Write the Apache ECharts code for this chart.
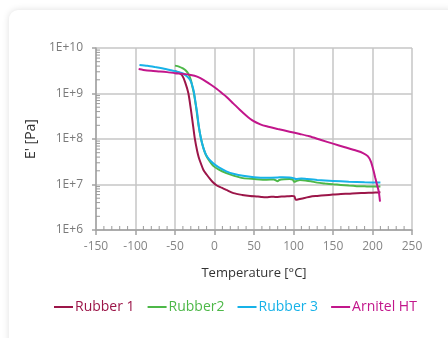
<!DOCTYPE html>
<html><head><meta charset="utf-8">
<script src="https://cdn.jsdelivr.net/npm/echarts@6/dist/echarts.min.js"></script>
<style>
html,body{margin:0;padding:0;background:#fff;overflow:hidden;}
#card{position:absolute;left:9px;top:10px;width:450px;height:345px;background:#fff;border-radius:9px;box-shadow:0 0 7px rgba(0,0,0,0.13);}
#chart{position:absolute;left:0;top:0;width:448px;height:338px;}
</style></head><body>
<div id="card"></div><div id="chart"></div>
<script>
// ---- data (temperature in °C, storage modulus E' in Pa) ----
const seriesNames = ['Rubber 1', 'Rubber2', 'Rubber 3', 'Arnitel HT'];
const seriesColors = ['#9c1649', '#4db848', '#17b2e8', '#c2168b'];

const rubber1T = [-50,-45,-41,-37,-33,-30,-27,-25,-22,-20,-17,-14,-10,-6,-2,3,9,15,24,35,45,55,60,66,72,78,85,92,98,101,103,108,115,121,130,140,150,160,170,180,190,200,207,210];
const rubber1E = [3.09e9,2.88e9,2.51e9,1.74e9,1.0e9,4.57e8,1.9e8,1.05e8,5.5e7,3.98e7,2.82e7,2.09e7,1.66e7,1.35e7,1.12e7,9.5e6,8.5e6,7.6e6,6.45e6,5.9e6,5.6e6,5.45e6,5.3e6,5.25e6,5.4e6,5.3e6,5.45e6,5.5e6,5.6e6,5.5e6,4.6e6,4.8e6,5.1e6,5.4e6,5.6e6,5.8e6,6.0e6,6.2e6,6.3e6,6.45e6,6.5e6,6.6e6,6.7e6,6.75e6];

const rubber2T = [-50,-45,-40,-36,-33,-30,-28,-26,-23,-20,-17,-14,-11,-7,-2,5,15,25,36,50,66,75,80,82,88,95,99,101,104,108,115,122,130,140,150,160,170,180,190,200,210];
const rubber2E = [4.1e9,3.9e9,3.55e9,3.15e9,2.7e9,2.0e9,1.4e9,1.0e9,4.6e8,1.9e8,1.0e8,6.3e7,4.5e7,3.4e7,2.6e7,2.15e7,1.78e7,1.55e7,1.38e7,1.32e7,1.27e7,1.29e7,1.18e7,1.26e7,1.31e7,1.32e7,1.28e7,1.15e7,1.2e7,1.26e7,1.23e7,1.18e7,1.1e7,1.05e7,1.01e7,9.8e6,9.45e6,9.2e6,9.1e6,9.0e6,9.0e6];

const rubber3T = [-95,-85,-75,-65,-55,-50,-45,-40,-35,-31,-28,-26,-24,-22,-20,-17,-14,-11,-7,-2,5,15,25,36,50,66,80,86,95,100,103,110,117,130,150,170,190,210];
const rubber3E = [4.25e9,4.05e9,3.8e9,3.55e9,3.25e9,3.1e9,2.95e9,2.75e9,2.4e9,2.0e9,1.48e9,1.05e9,6.3e8,3.8e8,2.0e8,1.0e8,6.3e7,4.6e7,3.6e7,2.95e7,2.4e7,1.95e7,1.7e7,1.55e7,1.45e7,1.41e7,1.43e7,1.45e7,1.43e7,1.38e7,1.32e7,1.36e7,1.32e7,1.26e7,1.2e7,1.15e7,1.12e7,1.1e7];

const arnitelT = [-96,-90,-80,-69,-60,-50,-40,-30,-22,-14,-5,3,10,15,24,32,40,49,58,66,80,95,108,120,135,150,165,180,188,194,198,201,203.5,206,208,209.5];
const arnitelE = [3.45e9,3.3e9,3.15e9,3.05e9,2.95e9,2.8e9,2.7e9,2.55e9,2.35e9,2.0e9,1.58e9,1.26e9,1.0e9,8.5e8,6.0e8,4.4e8,3.3e8,2.5e8,2.1e8,1.9e8,1.66e8,1.45e8,1.29e8,1.15e8,9.5e7,7.9e7,6.6e7,5.5e7,4.9e7,4.2e7,3.2e7,2.1e7,1.4e7,9.5e6,6.9e6,4.2e6];

const xTicks = [-150,-100,-50,0,50,100,150,200,250];
const yTicks = [1e6,1e7,1e8,1e9,1e10];
const xMinorTicks = [];
for (let t = -140; t < 250; t += 10) if (t % 50 !== 0) xMinorTicks.push(t);
const yMinorTicks = [];
for (let d = 6; d < 10; d++) for (let m = 2; m <= 9; m++) yMinorTicks.push(m * Math.pow(10, d));

const xMin = xTicks[0], xMax = xTicks[xTicks.length - 1];
const yMin = yTicks[0], yMax = yTicks[yTicks.length - 1];

const font = "'Open Sans', sans-serif";
const tempSeries = [rubber1T, rubber2T, rubber3T, arnitelT];
const modSeries = [rubber1E, rubber2E, rubber3E, arnitelE];

const lineSeries = seriesNames.map((n, i) => ({
  name: n, type: 'line', showSymbol: false, symbol: 'none', smooth: 0.25,
  data: tempSeries[i].map((t, k) => [t, modSeries[i][k]]),
  lineStyle: { color: seriesColors[i], width: 2 },
  itemStyle: { color: seriesColors[i] }, z: 3 + i, animation: false
}));

const tickColor = '#9a9a9a';
const minorX = {
  type: 'custom', silent: true, animation: false, z: 10, clip: false,
  data: xMinorTicks.map(t => [t, yMin]),
  renderItem: (params, api) => {
    const p = api.coord([api.value(0), api.value(1)]);
    return { type: 'line', shape: { x1: p[0], y1: p[1], x2: p[0], y2: p[1] - 4 }, style: { stroke: tickColor, lineWidth: 1 } };
  }
};
const minorY = {
  type: 'custom', silent: true, animation: false, z: 10, clip: false,
  data: yMinorTicks.map(v => [xMin, v]),
  renderItem: (params, api) => {
    const p = api.coord([api.value(0), api.value(1)]);
    return { type: 'line', shape: { x1: p[0], y1: p[1], x2: p[0] + 4, y2: p[1] }, style: { stroke: tickColor, lineWidth: 1 } };
  }
};

const chart = echarts.init(document.getElementById('chart'), null, { renderer: 'canvas' });
chart.setOption({
  animation: false,
  backgroundColor: 'transparent',
  grid: { left: 96, right: 36, top: 48, bottom: 108, containLabel: false },
  legend: {
    bottom: 24, left: 54, padding: 0, icon: 'rect', itemWidth: 19, itemHeight: 2, itemGap: 13,
    data: seriesNames.map((n, i) => ({ name: n, textStyle: { color: seriesColors[i] } })),
    textStyle: { fontFamily: font, fontSize: 14, padding: [0, 0, 0, -3] }
  },
  xAxis: {
    type: 'value', min: xMin, max: xMax, interval: 50,
    name: 'Temperature [°C]', nameLocation: 'middle', nameGap: 37,
    nameTextStyle: { fontFamily: font, fontSize: 13, color: '#333' },
    axisLine: { onZero: false, lineStyle: { color: '#a3a3a3', width: 1.5 } },
    axisTick: { show: true, inside: false, length: 5, lineStyle: { color: '#a3a3a3', width: 1.5 } },
    axisLabel: { fontFamily: font, fontSize: 12, color: '#858585', margin: 11 },
    splitLine: { show: true, lineStyle: { color: '#c6c6c6', width: 1.5 } }
  },
  yAxis: {
    type: 'log', logBase: 10, min: yMin, max: yMax,
    name: "E' [Pa]", nameLocation: 'middle', nameGap: 47,
    nameTextStyle: { fontFamily: font, fontSize: 14, color: '#333' },
    axisLine: { show: true, onZero: false, lineStyle: { color: '#a3a3a3', width: 1.5 } },
    axisTick: { show: true, inside: false, length: 4, lineStyle: { color: '#a3a3a3', width: 1.5 } },
    axisLabel: { fontFamily: font, fontSize: 12, color: '#7a7a7a', margin: 13,
      formatter: v => '1E+' + Math.round(Math.log10(v)) },
    splitLine: { show: true, lineStyle: { color: '#c6c6c6', width: 1.5 } }
  },
  series: lineSeries.concat([minorX, minorY])
});
</script>
</body></html>
